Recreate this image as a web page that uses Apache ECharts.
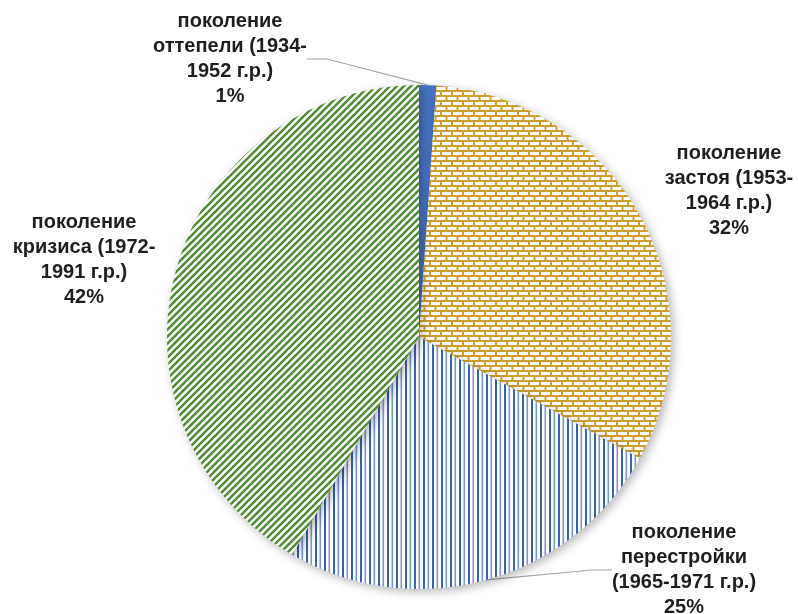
<!DOCTYPE html>
<html>
<head>
<meta charset="utf-8">
<script src="https://cdn.jsdelivr.net/npm/echarts@6/dist/echarts.min.js"></script>
<style>
html,body{margin:0;padding:0;background:#fff;}
#c{width:798px;height:614px;}
</style>
</head>
<body>
<div id="c"></div>
<script>
// ---- data ----
const categories = [
  'поколение\nоттепели (1934-\n1952 г.р.)',
  'поколение\nзастоя (1953-\n1964 г.р.)',
  'поколение\nперестройки\n(1965-1971 г.р.)',
  'поколение\nкризиса (1972-\n1991 г.р.)'
];
const shares = [1.1, 31.9, 25.4, 41.6];

// ---- patterns (style only) ----
function brick() {
  const c = document.createElement('canvas');
  c.width = 22; c.height = 10;
  const g = c.getContext('2d');
  g.fillStyle = '#ffffff'; g.fillRect(0, 0, 22, 10);
  g.fillStyle = '#CF9E2C';
  g.fillRect(0, 0, 22, 2);
  g.fillRect(0, 5, 22, 2);
  g.fillRect(0, 0, 2, 5);
  g.fillRect(11, 0, 2, 5);
  g.fillRect(5.5, 5, 2, 5);
  g.fillRect(16.5, 5, 2, 5);
  return c;
}
function vstripes() {
  const c = document.createElement('canvas');
  c.width = 9; c.height = 4;
  const g = c.getContext('2d');
  g.fillStyle = '#ffffff'; g.fillRect(0, 0, 9, 4);
  g.fillStyle = '#3560B4'; g.fillRect(0, 0, 2, 4);
  g.fillStyle = '#7A95D4'; g.fillRect(4.5, 0, 1.6, 4);
  return c;
}
function diag() {
  const s = 7;
  const c = document.createElement('canvas');
  c.width = s; c.height = s;
  const g = c.getContext('2d');
  g.fillStyle = '#ffffff'; g.fillRect(0, 0, s, s);
  g.strokeStyle = '#4E8A2E'; g.lineWidth = 2.4;
  g.beginPath();
  g.moveTo(-1, s + 1); g.lineTo(s + 1, -1);
  g.moveTo(-1, 1); g.lineTo(1, -1);
  g.moveTo(s - 1, s + 1); g.lineTo(s + 1, s - 1);
  g.stroke();
  return c;
}
const fills = [
  '#4472C4',
  { image: brick(), repeat: 'repeat' },
  { image: vstripes(), repeat: 'repeat' },
  { image: diag(), repeat: 'repeat' }
];
const labelPos = [
  { x: 230, y: 59 },
  { x: 729, y: 191 },
  { x: 684, y: 570 },
  { x: 84, y: 260 }
];
const showLine = [true, false, true, false];

const chart = echarts.init(document.getElementById('c'), null, { renderer: 'canvas' });
chart.setOption({
  backgroundColor: '#ffffff',
  animation: false,
  series: [{
    type: 'pie',
    center: [419, 337],
    radius: 252,
    startAngle: 90,
    clockwise: true,
    data: categories.map((n, i) => ({
      name: n,
      value: shares[i],
      itemStyle: { color: fills[i] },
      labelLine: { show: showLine[i] }
    })),
    itemStyle: {
      borderWidth: 0,
      shadowBlur: 10,
      shadowOffsetX: 3,
      shadowOffsetY: 3,
      shadowColor: 'rgba(0,0,0,0.28)'
    },
    label: {
      show: true,
      position: 'outside',
      overflow: 'none',
      formatter: p => p.name + '\n' + Math.round(p.value) + '%',
      fontFamily: 'Liberation Sans, Arial, sans-serif',
      fontWeight: 'bold',
      fontSize: 20,
      lineHeight: 25,
      color: '#1E1E1E',
      align: 'center'
    },
    labelLine: {
      show: true,
      length: 20,
      length2: 20,
      lineStyle: { color: '#A6A6A6', width: 1.2 }
    },
    labelLayout: function (p) {
      const lp = labelPos[p.dataIndex];
      return { x: lp.x, y: lp.y, align: 'center', verticalAlign: 'middle' };
    }
  }]
});
</script>
</body>
</html>
